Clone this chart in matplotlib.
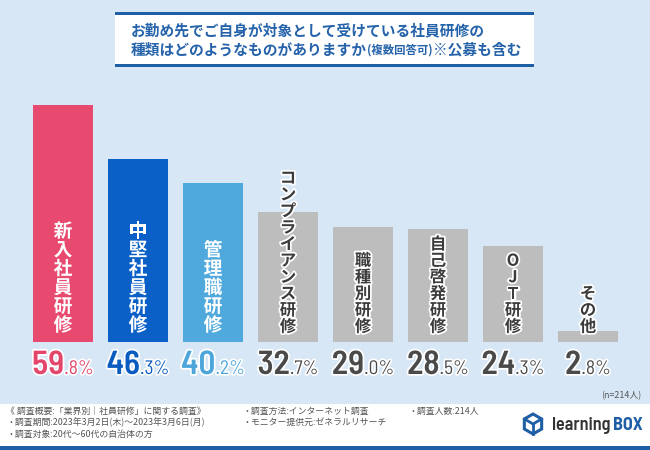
import matplotlib
matplotlib.use("Agg")
import matplotlib.pyplot as plt
import matplotlib.patheffects as pe
from matplotlib import font_manager as fm
from matplotlib.patches import Rectangle, RegularPolygon

plt.rcParams['font.family'] = ['Noto Sans CJK JP', 'DejaVu Sans']

# pick a condensed face for the numbers if one is around
avail = {f.name for f in fm.fontManager.ttflist}
NUM_FONT = next((n for n in ['Barlow Semi Condensed', 'Barlow Condensed',
                             'Roboto Condensed', 'Archivo Narrow', 'PT Sans Narrow',
                             'Liberation Sans Narrow', 'Oswald'] if n in avail),
                'DejaVu Sans')
BIG, SMALL = (24, 14) if NUM_FONT != 'DejaVu Sans' else (19, 11)

# data
categories = ["新入社員研修", "中堅社員研修", "管理職研修", "コンプライアンス研修",
              "職種別研修", "自己啓発研修", "OJT研修", "その他"]
values = [59.8, 46.3, 40.2, 32.7, 29.0, 28.5, 24.3, 2.8]
bar_colors = ["#E8496E", "#0A60C6", "#4FA9DD", "#BDBDBD",
              "#BDBDBD", "#BDBDBD", "#BDBDBD", "#BDBDBD"]
value_colors = ["#E4456B", "#0B5CC0", "#4DA6DA", "#4A4A4A",
                "#4A4A4A", "#4A4A4A", "#4A4A4A", "#4A4A4A"]
title_lines = [[("お勤め先でご自身が対象として受けている社員研修の", 10.6)],
               [("種類はどのようなものがありますか", 10.6), ("(複数回答可)", 8.2),
                ("※公募も含む", 10.6)]]
footer_col1 = ["《 調査概要:「業界別｜社員研修」に関する調査》",
               "・調査期間:2023年3月2日(木)〜2023年3月6日(月)",
               "・調査対象:20代〜60代の自治体の方"]
footer_col2 = ["・調査方法:インターネット調査", "・モニター提供元:ゼネラルリサーチ"]
footer_col3 = ["・調査人数:214人"]
n_note = "(n=214人)"

BG = "#D7E7F6"
BLUE = "#1F5FA6"

fig = plt.figure(figsize=(6.5, 4.5), dpi=100)
fig.patch.set_facecolor(BG)

# decoration layer in pixel coordinates
bg = fig.add_axes([0, 0, 1, 1], zorder=0)
bg.set_xlim(0, 650)
bg.set_ylim(450, 0)
bg.axis("off")

# title box
bg.add_patch(Rectangle((115, 13), 419, 53, facecolor="white", edgecolor="none"))
bg.add_patch(Rectangle((115, 12), 419, 3, facecolor=BLUE, edgecolor="none"))
bg.add_patch(Rectangle((115, 64), 419, 3, facecolor=BLUE, edgecolor="none"))

renderer = fig.canvas.get_renderer()


def place_runs(x, y, runs, color, weight="bold"):
    for txt, size in runs:
        t = bg.text(x, y, txt, fontsize=size, color=color, fontweight=weight,
                    va="center", ha="left")
        x += t.get_window_extent(renderer=renderer).width


place_runs(131, 30, title_lines[0], "#2462AA")
place_runs(131, 50, title_lines[1], "#2462AA")

# footer
bg.add_patch(Rectangle((0, 404), 650, 43, facecolor="white", edgecolor="none"))
bg.add_patch(Rectangle((0, 446), 650, 4, facecolor=BLUE, edgecolor="none"))
for col, x0 in [(footer_col1, 6), (footer_col2, 243), (footer_col3, 408)]:
    for k, line in enumerate(col):
        bg.text(x0, 411 + k * 11.5, line, fontsize=6.4, color="#555555",
                va="center", ha="left")
bg.text(641, 396, n_note, fontsize=6.4, color="#555555", va="center", ha="right")

# logo
bg.add_patch(RegularPolygon((533, 424), 6, radius=10, orientation=0,
                            facecolor="none", edgecolor=BLUE, lw=2.2))
bg.plot([533, 533], [424, 434], color=BLUE, lw=2)
bg.plot([524.5, 533, 541.5], [419, 424, 419], color=BLUE, lw=2)
lt = bg.text(552, 425, "learning", fontsize=13, fontweight="semibold",
             color="#333333", family=NUM_FONT, va="center", ha="left")
bx = lt.get_window_extent(renderer=renderer).x1 + 2
bg.text(bx, 425, "BOX", fontsize=13, fontweight="bold", color=BLUE,
        family=NUM_FONT, va="center", ha="left")

# chart
ax = fig.add_axes([25.5 / 650, 108 / 450, 600 / 650, 252 / 450], zorder=1)
ax.patch.set_alpha(0)
xs = list(range(len(categories)))
ax.bar(xs, values, width=0.8, color=bar_colors)
ax.set_xlim(-0.5, len(categories) - 0.5)
ax.set_ylim(0, 252 / (237 / 59.8))
ax.axis("off")

# vertical labels inside bars
for i, (cat, col) in enumerate(zip(categories, bar_colors)):
    n = len(cat)
    if i < 3:
        pitch, size, tcol, weight = 18.8, 13.5, "white", "bold"
        stroke = pe.withStroke(linewidth=2.0, foreground=col)
    else:
        pitch, size, tcol, weight = 16.5, 11.8, "#3C3C3C", "bold"
        stroke = pe.withStroke(linewidth=2.5, foreground="white")
    for k, ch in enumerate(cat):
        dy = 7 + (n - 1 - k) * pitch + pitch / 2
        ax.annotate(ch, (i, 0), xytext=(0, dy), textcoords="offset pixels",
                    ha="center", va="center", fontsize=size, color=tcol,
                    fontweight=weight, annotation_clip=False,
                    path_effects=[stroke])

# value labels
for i, (v, col) in enumerate(zip(values, value_colors)):
    big, small = f"{v:.1f}".split(".")
    halo = [pe.withStroke(linewidth=2.5, foreground="white")]
    a1 = ax.annotate(big, (i, 0), xytext=(0, -32), textcoords="offset pixels",
                     ha="left", va="baseline", fontsize=BIG, fontweight="semibold",
                     color=col, family=NUM_FONT, annotation_clip=False,
                     path_effects=halo)
    a2 = ax.annotate("." + small + "%", (i, 0), xytext=(0, -32),
                     textcoords="offset pixels", ha="left", va="baseline",
                     fontsize=SMALL, color=col, family=NUM_FONT,
                     annotation_clip=False, path_effects=halo)
    w1 = a1.get_window_extent(renderer=renderer).width
    w2 = a2.get_window_extent(renderer=renderer).width
    start = -(w1 + w2) / 2
    a1.xyann = (start, -32)
    a2.xyann = (start + w1, -32)

fig.savefig("out.png", dpi=100)
